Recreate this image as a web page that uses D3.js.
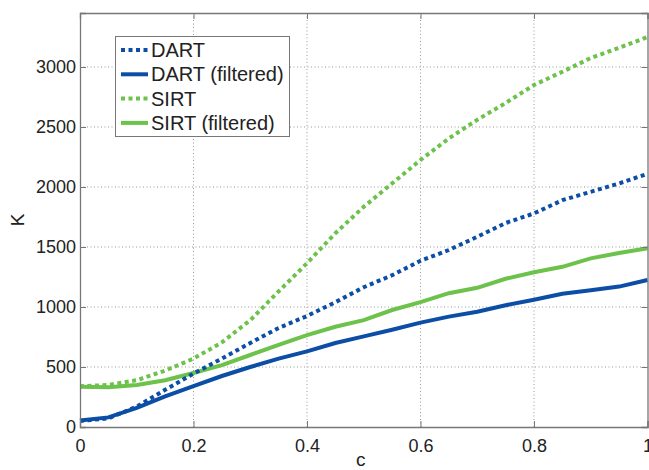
<!DOCTYPE html>
<html><head><meta charset="utf-8">
<script src="https://cdn.jsdelivr.net/npm/d3@7"></script>
<style>body{margin:0;background:#fff;}svg{display:block;}text{font-family:"Liberation Sans",Arial,sans-serif;}</style>
</head><body>
<script>
const cValues = [0,0.05,0.1,0.15,0.2,0.25,0.3,0.35,0.4,0.45,0.5,0.55,0.6,0.65,0.7,0.75,0.8,0.85,0.9,0.95,1.0];
const dart = [50,72,170,310,445,570,700,825,925,1040,1165,1265,1385,1475,1585,1700,1780,1890,1960,2030,2110];
const dartFiltered = [55,80,160,255,340,425,500,570,630,700,755,810,870,920,960,1015,1060,1110,1140,1170,1225];
const sirt = [340,350,390,470,570,705,890,1130,1365,1615,1835,2030,2225,2405,2560,2700,2850,2960,3075,3160,3250];
const sirtFiltered = [335,332,350,390,450,515,600,685,765,835,890,975,1040,1115,1160,1235,1290,1335,1405,1450,1490];
const xTicks = [0,0.2,0.4,0.6,0.8,1];
const yTicks = [0,500,1000,1500,2000,2500,3000];
const seriesNames = ["DART","DART (filtered)","SIRT","SIRT (filtered)"];

const W=649,H=470;
const m={l:80,r:1.5,t:13,b:43};
const svg=d3.select("body").append("svg").attr("width",W).attr("height",H);
const x=d3.scaleLinear().domain([0,1]).range([m.l,W-m.r]);
const y=d3.scaleLinear().domain([0,3450]).range([H-m.b,m.t]);

const grid=svg.append("g");
xTicks.slice(1,-1).forEach(t=>grid.append("line").attr("x1",x(t)).attr("x2",x(t)).attr("y1",y(0)).attr("y2",y(3450))
  .attr("stroke","#9a9a9a").attr("stroke-width",1).attr("stroke-dasharray","1,2.5"));
yTicks.slice(1).forEach(t=>grid.append("line").attr("x1",x(0)).attr("x2",x(1)).attr("y1",y(t)).attr("y2",y(t))
  .attr("stroke","#9a9a9a").attr("stroke-width",1).attr("stroke-dasharray","1,2.5"));

const blue="#0c4ea6", green="#6cc24a";
const series=[
 {name:seriesNames[0],vals:dart,color:blue,dash:"4,3.5"},
 {name:seriesNames[1],vals:dartFiltered,color:blue,dash:null},
 {name:seriesNames[2],vals:sirt,color:green,dash:"4,3.5"},
 {name:seriesNames[3],vals:sirtFiltered,color:green,dash:null}];
const line=d3.line().x((d,i)=>x(cValues[i])).y(d=>y(d));
const order=[3,1,2,0];
order.forEach(k=>{const s=series[k];
  svg.append("path").datum(s.vals).attr("d",line).attr("fill","none").attr("stroke",s.color)
   .attr("stroke-width",4).attr("stroke-dasharray",s.dash);});

// axes
const xa=svg.append("g").attr("transform",`translate(0,${y(0)})`)
  .call(d3.axisBottom(x).tickValues(xTicks).tickSize(-6).tickPadding(12).tickFormat(d3.format("")));
const xa2=svg.append("g").attr("transform",`translate(0,${y(3450)})`)
  .call(d3.axisTop(x).tickValues(xTicks).tickSize(-6).tickFormat(""));
const ya=svg.append("g").attr("transform",`translate(${x(0)},0)`)
  .call(d3.axisLeft(y).tickValues(yTicks).tickSize(-6).tickPadding(4).tickFormat(d3.format("d")));
const ya2=svg.append("g").attr("transform",`translate(${x(1)},0)`)
  .call(d3.axisRight(y).tickValues(yTicks).tickSize(-6).tickFormat(""));
[xa,xa2,ya,ya2].forEach(g=>{g.selectAll("path").attr("stroke","#777").attr("stroke-width",1.3);
  g.selectAll("line").attr("stroke","#777");
  g.selectAll("text").attr("font-size",18).attr("fill","#222").attr("font-family","Liberation Sans, Arial, sans-serif");});

svg.append("text").attr("x",(x(0)+x(1))/2-3).attr("y",466).attr("text-anchor","middle").attr("font-size",19).attr("fill","#222").text("c");
svg.append("text").attr("transform",`translate(24,${(y(0)+y(3450))/2})rotate(-90)`).attr("text-anchor","middle").attr("font-size",19).attr("fill","#222").text("K");

// legend
const lg=svg.append("g");
lg.append("rect").attr("x",115.5).attr("y",36.5).attr("width",174).attr("height",100).attr("fill","#fff").attr("stroke","#777").attr("stroke-width",1);
series.forEach((s,i)=>{const yy=50+i*24.3;
  lg.append("line").attr("x1",121).attr("x2",148).attr("y1",yy).attr("y2",yy).attr("stroke",s.color).attr("stroke-width",4).attr("stroke-dasharray",s.dash);
  lg.append("text").attr("x",151).attr("y",yy+7).attr("font-size",20).attr("fill","#222").text(s.name);});
</script>
</body></html>
